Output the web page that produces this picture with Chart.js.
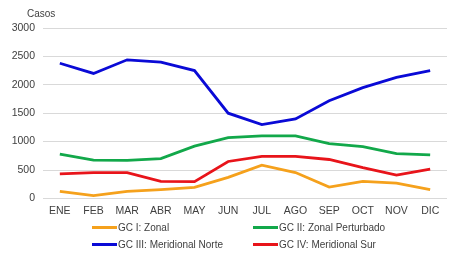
<!DOCTYPE html>
<html>
<head>
<meta charset="utf-8">
<script src="https://cdn.jsdelivr.net/npm/chart.js@4"></script>
<style>
  body { margin: 0; background: #fff; font-family: "Liberation Sans", Arial, sans-serif; }
  #wrap { position: relative; width: 450px; height: 260px; }
  #c { position: absolute; left: 0; top: 0; }
  #legend { position: absolute; left: 92px; top: 220px; display: grid; grid-template-columns: 161px 170px; row-gap: 3px; font-size: 10px; color: #404040; }
  .item { display: flex; align-items: center; height: 14px; }
  .swatch { width: 25px; height: 3px; margin-right: 1px; }
</style>
</head>
<body>
<div id="wrap">
  <canvas id="c" width="450" height="223"></canvas>
  <div id="legend"></div>
</div>
<script>
const months = ['ENE', 'FEB', 'MAR', 'ABR', 'MAY', 'JUN', 'JUL', 'AGO', 'SEP', 'OCT', 'NOV', 'DIC'];
const zonal = [125, 50, 125, 155, 195, 370, 585, 455, 200, 300, 270, 155];
const zonalPerturbado = [780, 675, 670, 700, 920, 1070, 1100, 1100, 965, 910, 790, 765];
const meridionalNorte = [2380, 2200, 2440, 2400, 2250, 1500, 1300, 1400, 1720, 1950, 2130, 2250];
const meridionalSur = [430, 455, 455, 300, 295, 650, 740, 740, 685, 540, 410, 515];
const yTicks = [0, 500, 1000, 1500, 2000, 2500, 3000];

const series = [
    { label: 'GC I: Zonal', data: zonal, color: '#f5a11c' },
    { label: 'GC II: Zonal Perturbado', data: zonalPerturbado, color: '#12a84a' },
    { label: 'GC III: Meridional Norte', data: meridionalNorte, color: '#0a0ad6' },
    { label: 'GC IV: Meridional Sur', data: meridionalSur, color: '#e8141a' }
];

// "Casos" label sits above the y axis, not rotated
const axisTitle = {
    id: 'axisTitle',
    afterDraw(chart) {
        const c = chart.ctx;
        c.save();
        c.font = '10px "Liberation Sans", Arial, sans-serif';
        c.fillStyle = '#404040';
        c.textBaseline = 'middle';
        c.fillText('Casos', 27, 14);
        c.restore();
    }
};

const ctx = document.getElementById('c');

new Chart(ctx, {
    type: 'line',
    data: {
        labels: months,
        datasets: series.map(s => ({
            label: s.label,
            data: s.data,
            borderColor: s.color,
            backgroundColor: s.color,
            borderWidth: 2.8,
            pointRadius: 0,
            tension: 0
        }))
    },
    options: {
        responsive: false,
        animation: false,
        layout: { padding: { top: 28, right: 3, left: 0, bottom: 0 } },
        plugins: {
            legend: { display: false },
            tooltip: { enabled: false }
        },
        scales: {
            y: {
                min: 0,
                max: 3000,
                afterBuildTicks: scale => { scale.ticks = yTicks.map(v => ({ value: v })); },
                afterFit: scale => { scale.width = 43; },
                grid: { color: '#d9d9d9', drawTicks: false },
                border: { display: false },
                ticks: {
                    color: '#404040',
                    padding: 8,
                    callback: v => String(v),
                    font: { size: 10.5, family: '"Liberation Sans", Arial, sans-serif' }
                }
            },
            x: {
                offset: true,
                grid: { display: false, drawTicks: false },
                border: { display: false },
                ticks: {
                    color: '#404040',
                    padding: 6,
                    maxRotation: 0,
                    autoSkip: false,
                    font: { size: 10.5, family: '"Liberation Sans", Arial, sans-serif' }
                }
            }
        }
    },
    plugins: [axisTitle]
});

const legend = document.getElementById('legend');
series.forEach(s => {
    const item = document.createElement('div');
    item.className = 'item';
    const sw = document.createElement('span');
    sw.className = 'swatch';
    sw.style.background = s.color;
    const txt = document.createElement('span');
    txt.textContent = s.label;
    item.appendChild(sw);
    item.appendChild(txt);
    legend.appendChild(item);
});
</script>
</body>
</html>
